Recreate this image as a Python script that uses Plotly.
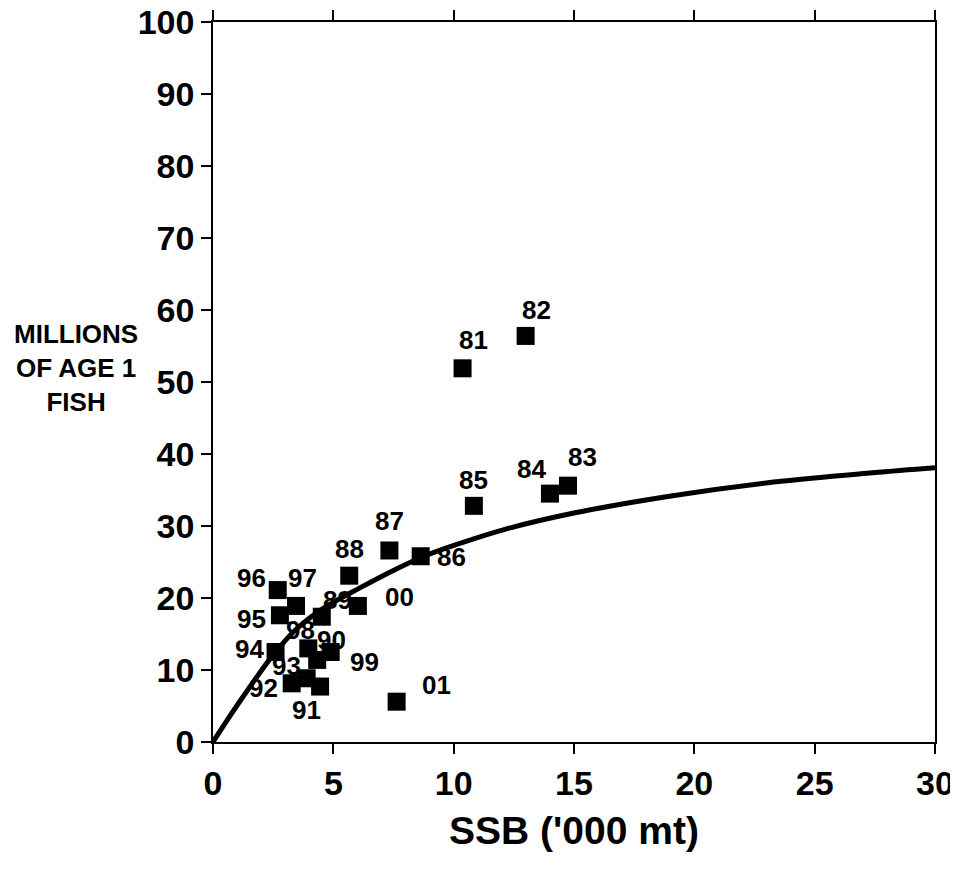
import plotly.graph_objects as go

# Data
years = ["81", "82", "83", "84", "85", "86", "87", "88", "89", "90", "91",
         "92", "93", "94", "95", "96", "97", "98", "99", "00", "01"]
ssb = [10.37, 12.99, 14.75, 14.0, 10.84, 8.63, 7.33, 5.66, 4.52, 4.89, 4.45,
       3.27, 3.89, 2.6, 2.78, 2.69, 3.45, 3.96, 4.33, 6.02, 7.63]
recruits = [51.9, 56.4, 35.6, 34.5, 32.8, 25.8, 26.6, 23.1, 17.4, 12.5, 7.7,
            8.15, 8.85, 12.5, 17.6, 21.1, 18.9, 13.0, 11.4, 18.9, 5.6]

curve_ssb = [0, 0.7, 1.5, 2.5, 3.5, 4.6, 6.1, 7.6, 8.7, 10.1, 12.2, 15.0,
             19.1, 23.3, 27.4, 30]
curve_rec = [0, 3.6, 7.5, 12.1, 15.8, 18.6, 21.4, 24.0, 25.7, 27.4, 29.6, 31.8,
             34.2, 36.1, 37.4, 38.1]

x_ticks = [0, 5, 10, 15, 20, 25, 30]
y_ticks = [0, 10, 20, 30, 40, 50, 60, 70, 80, 90, 100]

# label pixel offsets (layout only)
label_shift = {
    "81": (11, 28), "82": (11, 26), "83": (15, 29), "84": (-18, 25),
    "85": (0, 26), "86": (31, -1), "87": (0, 29), "88": (0, 27),
    "89": (16, 17), "90": (1, 12), "91": (-14, -23), "92": (-28, -5),
    "93": (-20, 12), "94": (-26, 3), "95": (-28, -4), "96": (-26, 12),
    "97": (6, 28), "98": (-8, 18), "99": (47, -2), "00": (42, 9),
    "01": (40, 17),
}

FONT = "Liberation Sans, Arial, sans-serif"

fig = go.Figure()
fig.add_trace(go.Scatter(
    x=curve_ssb, y=curve_rec, mode="lines",
    line=dict(color="black", width=5, shape="spline", smoothing=1.0),
    hoverinfo="skip", showlegend=False))
fig.add_trace(go.Scatter(
    x=ssb, y=recruits, mode="markers",
    marker=dict(symbol="square", size=18, color="black"),
    showlegend=False))

for yr, sx, ry in zip(years, ssb, recruits):
    dx, dy = label_shift[yr]
    fig.add_annotation(x=sx, y=ry, text="<b>" + yr + "</b>", showarrow=False,
                       xshift=dx, yshift=dy,
                       font=dict(family=FONT, size=26, color="black"))

fig.add_annotation(xref="paper", yref="paper", x=-0.19, y=0.52,
                   text="<b>MILLIONS<br>OF AGE 1<br>FISH</b>", showarrow=False,
                   align="center", xanchor="center", yanchor="middle",
                   font=dict(family=FONT, size=26, color="black"))

fig.update_layout(
    width=950, height=862,
    margin=dict(l=205, r=23, t=14, b=128, autoexpand=False),
    plot_bgcolor="white", paper_bgcolor="white",
    font=dict(family=FONT, color="black"),
)
fig.update_xaxes(
    range=[0, 30], tickvals=x_ticks, ticktext=["<b>%d</b>" % v for v in x_ticks],
    showgrid=False, zeroline=False, showline=True, linecolor="black", linewidth=1.5,
    ticks="outside", ticklen=10, tickwidth=1.5, tickcolor="black", mirror="ticks",
    tickfont=dict(family=FONT, size=34, color="black"), automargin=False,
    ticklabeloverflow="allow",
    title=dict(text="<b>SSB ('000 mt)</b>", font=dict(family=FONT, size=39, color="black"),
               standoff=16),
)
fig.update_yaxes(
    range=[0, 100], tickvals=y_ticks, ticktext=["<b>%d</b>" % v for v in y_ticks],
    showgrid=False, zeroline=False, showline=True, linecolor="black", linewidth=1.5,
    ticks="outside", ticklen=10, tickwidth=1.5, tickcolor="black", mirror=True,
    tickfont=dict(family=FONT, size=34, color="black"), automargin=False,
    ticklabeloverflow="allow",
)

fig.write_html("out.html")
